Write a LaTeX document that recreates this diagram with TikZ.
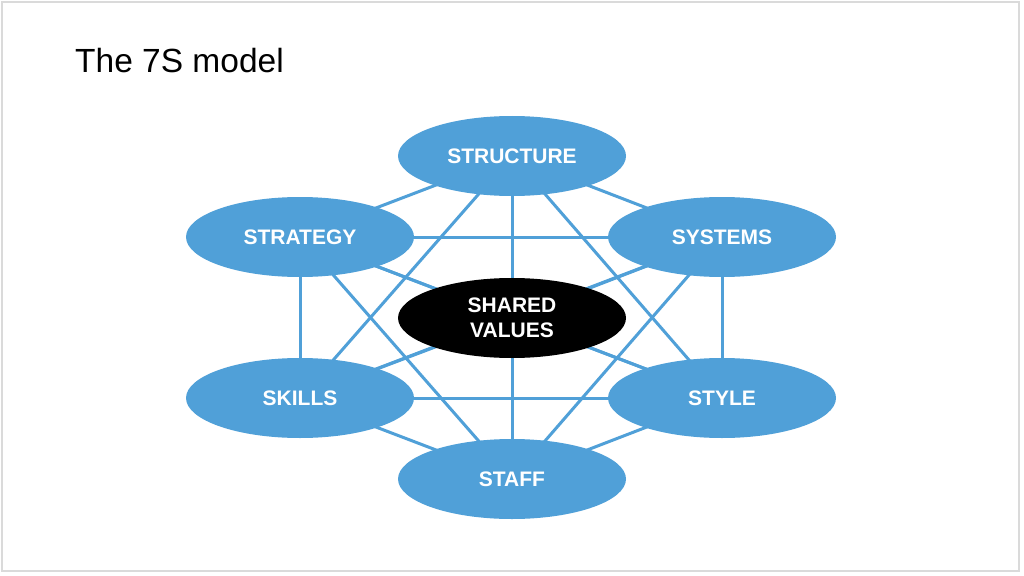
\documentclass[tikz,border=0pt]{standalone}
\usepackage{fontspec}
\setmainfont{Liberation Sans}
\usetikzlibrary{shapes.geometric}
\definecolor{sblue}{RGB}{80,160,216}
\definecolor{frame}{RGB}{218,218,218}
\begin{document}
\begin{tikzpicture}[x=1pt,y=-1pt,
  sbox/.style={ellipse,fill=sblue,minimum width=228pt,minimum height=80pt,inner sep=0pt,
    text=white,font=\fontsize{21}{25}\selectfont\bfseries,align=center},
  cbox/.style={sbox,fill=black},
  link/.style={draw=sblue,line width=3pt}]
\useasboundingbox (0,0) rectangle (1024,575);
\fill[white] (0,0) rectangle (1024,575);
\draw[frame,line width=2pt] (2,2) rectangle (1019,571);
\node[anchor=base west,inner sep=0pt,font=\fontsize{33.5}{40}\selectfont] (title) at (75,73) {The 7S model};
\coordinate (cst) at (512,156);
\coordinate (cstr) at (300,237);
\coordinate (csys) at (722,237);
\coordinate (csv) at (512,318);
\coordinate (csk) at (300,398);
\coordinate (csty) at (722,398);
\coordinate (csta) at (512,479);
\foreach \a/\b in {cst/cstr,cst/csys,cst/csv,cst/csk,cst/csty,cst/csta,
  cstr/csys,cstr/csv,cstr/csk,cstr/csty,cstr/csta,
  csys/csv,csys/csk,csys/csty,csys/csta,
  csv/csk,csv/csty,csv/csta,
  csk/csty,csk/csta,csty/csta}
  \draw[link] (\a) -- (\b);
\node[sbox] (structure) at (cst) {STRUCTURE};
\node[sbox] (strategy) at (cstr) {STRATEGY};
\node[sbox] (systems) at (csys) {SYSTEMS};
\node[cbox] (shared) at (csv) {SHARED\\VALUES};
\node[sbox] (skills) at (csk) {SKILLS};
\node[sbox] (style) at (csty) {STYLE};
\node[sbox] (staff) at (csta) {STAFF};
\end{tikzpicture}
\end{document}
